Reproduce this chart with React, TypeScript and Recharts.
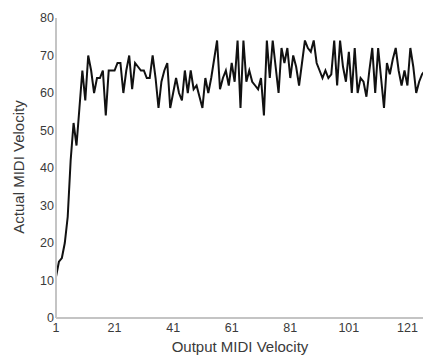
import React from "react";
import { LineChart, Line, XAxis, YAxis, Label } from "recharts";

// actual velocity measured for each output velocity 1..127
const actualVelocity: number[] = [
  11, 15, 16, 20, 27, 42, 52, 46, 56, 66, 58, 70, 66, 60, 64, 64, 66, 54, 66, 66,
  66, 68, 68, 60, 66, 70, 61, 68, 67, 66, 66, 64, 64, 70, 64, 56, 63, 66, 68, 56,
  60, 64, 60, 58, 66, 60, 66, 61, 62, 59, 56, 64, 60, 64, 69, 74, 61, 64, 66, 62,
  68, 63, 74, 56, 74, 63, 66, 63, 62, 61, 64, 54, 74, 64, 74, 67, 60, 72, 68, 72,
  64, 70, 67, 62, 68, 74, 72, 71, 74, 68, 66, 64, 66, 64, 65, 74, 62, 74, 67, 63,
  71, 60, 72, 60, 64, 63, 59, 66, 72, 60, 72, 64, 56, 68, 65, 69, 72, 66, 62, 66,
  62, 72, 67, 60, 63, 65, 66,
];

const xTicks = [1, 21, 41, 61, 81, 101, 121];
const yTicks = [0, 10, 20, 30, 40, 50, 60, 70, 80];

const data = actualVelocity.map((v, i) => ({ output: i + 1, actual: v }));

const FONT = "'Liberation Sans', Arial, sans-serif";
const AXIS_COLOR = "#c4c4c4";
const TEXT_COLOR = "#3a3a3a";

export default function App() {
  return (
    <div
      style={{
        position: "absolute",
        left: 0,
        top: 0,
        width: 423,
        height: 356,
        overflow: "hidden",
        background: "#fff",
        fontFamily: FONT,
      }}
    >
      <LineChart
        width={425}
        height={356}
        data={data}
        margin={{ top: 18, right: 0, bottom: 0, left: 0 }}
      >
        <XAxis
          dataKey="output"
          type="number"
          domain={[1, 127]}
          ticks={xTicks}
          interval={0}
          height={38}
          axisLine={{ stroke: AXIS_COLOR, strokeWidth: 2 }}
          tickLine={false}
          tickSize={3}
          tickMargin={2}
          tick={{ fill: TEXT_COLOR, fontSize: 12.5, fontFamily: FONT }}
        >
          <Label
            content={() => (
              <text
                x={240}
                y={352}
                textAnchor="middle"
                fill={TEXT_COLOR}
                fontSize={15}
                fontFamily={FONT}
              >
                Output MIDI Velocity
              </text>
            )}
          />
        </XAxis>
        <YAxis
          type="number"
          domain={[0, 80]}
          ticks={yTicks}
          interval={0}
          width={56}
          axisLine={{ stroke: AXIS_COLOR, strokeWidth: 2 }}
          tickLine={false}
          tickSize={0}
          tickMargin={2}
          tick={{ fill: TEXT_COLOR, fontSize: 12.5, fontFamily: FONT }}
        >
          <Label
            content={() => (
              <text
                x={24}
                y={167}
                transform="rotate(-90 24 167)"
                textAnchor="middle"
                fill={TEXT_COLOR}
                fontSize={15}
                fontFamily={FONT}
              >
                Actual MIDI Velocity
              </text>
            )}
          />
        </YAxis>
        <Line
          type="linear"
          dataKey="actual"
          stroke="#111"
          strokeWidth={2}
          dot={false}
          isAnimationActive={false}
        />
      </LineChart>
    </div>
  );
}
